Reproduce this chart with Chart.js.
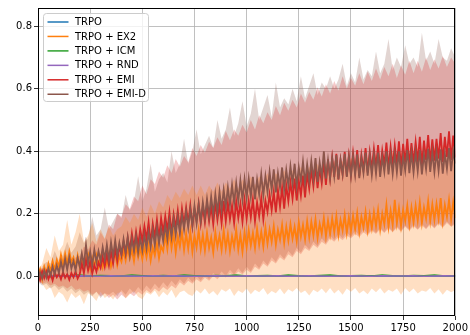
<!DOCTYPE html>
<html><head><meta charset="utf-8">
<script src="https://cdn.jsdelivr.net/npm/chart.js@4.4.1/dist/chart.umd.min.js"></script>
<style>html,body{margin:0;padding:0;background:#fff;overflow:hidden}canvas{display:block}</style>
</head><body>
<canvas id="c" width="470" height="335"></canvas>
<script>
// ---- tick labels ----
const xTicks = [0, 250, 500, 750, 1000, 1250, 1500, 1750, 2000];
const yTicks = [0.0, 0.2, 0.4, 0.6, 0.8];
const seriesNames = ["TRPO", "TRPO + EX2", "TRPO + ICM", "TRPO + RND", "TRPO + EMI", "TRPO + EMI-D"];
const seriesColors = ["#1f77b4", "#ff7f0e", "#2ca02c", "#9467bd", "#d62728", "#8c564b"];

// ---- sampling steps (x values) ----
const stepFine = 10;    // mean curves of EX2 / EMI / EMI-D
const stepBand = 20;    // shaded bands
const stepFlat = 50;    // flat baselines

// ---- mean curves (every 10 steps, 0..2000) ----
const ex2Mean = [
0.000,0.022,-0.010,0.030,0.008,0.040,0.015,0.048,0.020,0.052,
0.030,0.068,0.036,0.072,0.040,0.078,0.045,0.060,0.030,0.066,
0.030,0.062,0.028,0.055,0.070,0.025,0.058,0.032,0.066,0.030,
0.060,0.028,0.064,0.036,0.070,0.030,0.056,0.072,0.034,0.064,
0.046,0.080,0.050,0.090,0.056,0.084,0.048,0.096,0.060,0.088,
0.054,0.094,0.060,0.100,0.050,0.092,0.066,0.104,0.058,0.096,
0.080,0.130,0.086,0.144,0.090,0.136,0.076,0.128,0.094,0.140,
0.084,0.136,0.088,0.142,0.078,0.130,0.092,0.146,0.086,0.132,
0.082,0.138,0.090,0.124,0.076,0.140,0.094,0.130,0.084,0.146,
0.088,0.134,0.080,0.128,0.094,0.148,0.086,0.132,0.078,0.140,
0.092,0.146,0.098,0.138,0.090,0.152,0.100,0.142,0.094,0.156,
0.104,0.150,0.110,0.160,0.100,0.148,0.116,0.164,0.106,0.158,
0.114,0.166,0.120,0.158,0.112,0.172,0.126,0.164,0.118,0.176,
0.124,0.174,0.130,0.182,0.122,0.168,0.136,0.186,0.128,0.178,
0.134,0.186,0.140,0.192,0.132,0.180,0.146,0.196,0.138,0.188,
0.144,0.194,0.150,0.202,0.142,0.190,0.156,0.206,0.148,0.198,
0.154,0.206,0.160,0.212,0.150,0.200,0.166,0.228,0.158,0.210,
0.164,0.244,0.170,0.218,0.160,0.212,0.176,0.226,0.166,0.220,
0.172,0.226,0.178,0.236,0.170,0.220,0.184,0.240,0.176,0.230,
0.180,0.232,0.184,0.250,0.176,0.228,0.190,0.244,0.182,0.236,
0.186];
const emiMean = [
0.010,-0.012,0.016,-0.006,0.014,-0.010,0.008,-0.014,0.012,-0.004,
0.008,-0.010,0.012,-0.006,0.006,-0.012,0.010,-0.004,0.014,-0.008,
0.006,0.040,0.010,0.052,0.018,0.046,0.008,0.036,0.014,0.044,
0.026,0.062,0.030,0.070,0.034,0.078,0.040,0.088,0.048,0.096,
0.066,0.110,0.072,0.124,0.082,0.136,0.090,0.142,0.098,0.150,
0.112,0.160,0.118,0.172,0.106,0.168,0.124,0.180,0.120,0.186,
0.140,0.192,0.146,0.204,0.138,0.198,0.154,0.210,0.150,0.216,
0.164,0.220,0.170,0.226,0.160,0.214,0.176,0.232,0.168,0.222,
0.172,0.230,0.176,0.224,0.166,0.236,0.180,0.228,0.170,0.240,
0.176,0.234,0.182,0.226,0.170,0.240,0.186,0.232,0.174,0.244,
0.184,0.240,0.188,0.246,0.176,0.236,0.192,0.250,0.182,0.242,
0.206,0.262,0.212,0.270,0.204,0.276,0.222,0.284,0.216,0.290,
0.240,0.300,0.248,0.312,0.242,0.306,0.258,0.322,0.252,0.330,
0.280,0.340,0.288,0.352,0.282,0.346,0.298,0.366,0.292,0.374,
0.312,0.380,0.318,0.392,0.310,0.372,0.326,0.398,0.320,0.386,
0.326,0.394,0.334,0.404,0.320,0.388,0.340,0.410,0.332,0.398,
0.342,0.408,0.348,0.420,0.336,0.402,0.356,0.428,0.346,0.414,
0.352,0.418,0.358,0.432,0.348,0.424,0.364,0.440,0.356,0.426,
0.362,0.430,0.366,0.446,0.356,0.434,0.372,0.452,0.364,0.438,
0.370,0.440,0.376,0.458,0.366,0.446,0.382,0.464,0.372,0.450,
0.380];
const emidMean = [
-0.014,0.012,-0.008,0.018,-0.004,0.024,0.002,0.030,0.006,0.034,
0.010,0.046,0.016,0.054,0.020,0.060,0.024,0.048,0.018,0.058,
0.030,0.072,0.036,0.100,0.040,0.078,0.034,0.084,0.044,0.080,
0.048,0.092,0.054,0.100,0.050,0.108,0.062,0.114,0.066,0.106,
0.070,0.118,0.074,0.124,0.068,0.120,0.080,0.128,0.076,0.122,
0.082,0.132,0.088,0.140,0.094,0.148,0.098,0.156,0.104,0.152,
0.112,0.164,0.118,0.176,0.126,0.184,0.132,0.190,0.138,0.196,
0.150,0.206,0.156,0.214,0.162,0.224,0.170,0.230,0.176,0.236,
0.186,0.246,0.192,0.254,0.198,0.262,0.204,0.270,0.212,0.276,
0.222,0.284,0.228,0.292,0.234,0.298,0.240,0.306,0.244,0.310,
0.250,0.312,0.254,0.318,0.246,0.310,0.262,0.326,0.258,0.320,
0.270,0.334,0.276,0.342,0.268,0.330,0.284,0.348,0.278,0.340,
0.290,0.352,0.296,0.360,0.288,0.348,0.304,0.366,0.298,0.358,
0.306,0.368,0.310,0.378,0.302,0.364,0.318,0.400,0.312,0.372,
0.314,0.378,0.320,0.388,0.310,0.372,0.326,0.392,0.318,0.382,
0.320,0.384,0.324,0.390,0.314,0.378,0.330,0.396,0.322,0.386,
0.324,0.388,0.328,0.396,0.318,0.382,0.334,0.400,0.326,0.390,
0.328,0.392,0.332,0.400,0.322,0.386,0.338,0.404,0.330,0.394,
0.332,0.396,0.336,0.404,0.326,0.390,0.342,0.408,0.334,0.398,
0.334,0.398,0.338,0.406,0.328,0.392,0.344,0.410,0.336,0.400,
0.360];

// ---- flat baselines (every 50 steps) ----
const trpoMean = [0.000,0.000,-0.001,0.000,0.001,0.000,0.000,-0.001,0.000,0.000,0.001,0.000,0.000,0.000,-0.001,0.000,0.000,0.001,0.000,0.000,0.000,-0.001,0.000,0.000,0.001,0.000,0.000,0.000,-0.001,0.000,0.000,0.000,0.001,0.000,0.000,-0.001,0.000,0.000,0.000,0.001,0.000];
const icmMean  = [0.000,0.002,0.000,0.001,0.003,0.000,0.002,0.001,0.000,0.003,0.001,0.000,0.002,0.000,0.003,0.001,0.000,0.002,0.001,0.003,0.000,0.001,0.002,0.000,0.003,0.001,0.000,0.002,0.003,0.000,0.001,0.002,0.000,0.003,0.001,0.000,0.002,0.001,0.003,0.000,0.001];
const rndMean  = [0.000,0.001,-0.001,0.000,0.001,0.000,-0.001,0.001,0.000,0.000,-0.001,0.001,0.000,0.001,0.000,-0.001,0.000,0.001,0.000,-0.001,0.001,0.000,0.000,0.001,-0.001,0.000,0.001,0.000,-0.001,0.000,0.001,0.000,-0.001,0.001,0.000,0.000,0.001,-0.001,0.000,0.001,0.000];

// ---- shaded bands (every 20 steps, 0..2000) ----
const ex2Upper = [
0.010,0.040,0.090,0.060,0.130,0.080,0.100,0.180,0.100,0.140,
0.200,0.110,0.130,0.170,0.110,0.150,0.120,0.160,0.130,0.150,
0.160,0.190,0.170,0.200,0.180,0.220,0.190,0.230,0.200,0.240,
0.220,0.260,0.240,0.270,0.250,0.280,0.260,0.290,0.260,0.290,
0.260,0.290,0.270,0.300,0.270,0.300,0.280,0.310,0.280,0.310,
0.290,0.320,0.290,0.320,0.300,0.330,0.300,0.330,0.310,0.340,
0.310,0.340,0.320,0.350,0.320,0.350,0.330,0.360,0.330,0.360,
0.340,0.370,0.340,0.370,0.350,0.380,0.350,0.380,0.360,0.380,
0.360,0.390,0.360,0.390,0.370,0.400,0.370,0.400,0.370,0.400,
0.380,0.410,0.380,0.410,0.380,0.410,0.390,0.420,0.390,0.420,
0.400];
const ex2Lower = [
-0.010,-0.025,-0.045,-0.035,-0.070,-0.050,-0.060,-0.085,-0.055,-0.070,
-0.060,-0.090,-0.055,-0.065,-0.080,-0.050,-0.070,-0.060,-0.075,-0.055,
-0.050,-0.072,-0.058,-0.048,-0.066,-0.074,-0.052,-0.060,-0.046,-0.068,
-0.050,-0.062,-0.044,-0.070,-0.052,-0.046,-0.058,-0.064,-0.045,-0.056,
-0.040,-0.058,-0.048,-0.062,-0.042,-0.050,-0.040,-0.064,-0.046,-0.054,
-0.040,-0.058,-0.044,-0.052,-0.038,-0.060,-0.048,-0.055,-0.040,-0.058,
-0.042,-0.050,-0.038,-0.054,-0.046,-0.062,-0.044,-0.052,-0.040,-0.055,
-0.038,-0.056,-0.044,-0.060,-0.040,-0.050,-0.038,-0.056,-0.046,-0.058,
-0.040,-0.052,-0.038,-0.056,-0.044,-0.050,-0.040,-0.060,-0.038,-0.052,
-0.040,-0.056,-0.046,-0.050,-0.038,-0.056,-0.042,-0.060,-0.044,-0.052,
-0.045];
const emiUpper = [
0.010,0.020,0.012,0.030,0.018,0.036,0.028,0.045,0.035,0.060,
0.065,0.095,0.085,0.115,0.100,0.140,0.118,0.165,0.150,0.200,
0.190,0.230,0.215,0.255,0.240,0.290,0.262,0.310,0.295,0.335,
0.315,0.355,0.330,0.375,0.350,0.385,0.365,0.410,0.385,0.420,
0.395,0.430,0.410,0.445,0.420,0.465,0.435,0.470,0.450,0.485,
0.460,0.500,0.470,0.515,0.490,0.525,0.500,0.545,0.515,0.555,
0.530,0.565,0.540,0.585,0.555,0.590,0.565,0.605,0.575,0.615,
0.585,0.625,0.595,0.640,0.600,0.635,0.610,0.650,0.615,0.655,
0.625,0.665,0.630,0.670,0.640,0.680,0.635,0.675,0.645,0.690,
0.650,0.690,0.655,0.700,0.660,0.695,0.665,0.705,0.670,0.700,
0.680];
const emiLower = [
-0.015,-0.025,-0.020,-0.030,-0.025,-0.035,-0.030,-0.040,-0.030,-0.045,
-0.040,-0.050,-0.045,-0.060,-0.050,-0.065,-0.055,-0.070,-0.060,-0.075,
-0.060,-0.070,-0.055,-0.065,-0.050,-0.060,-0.045,-0.055,-0.040,-0.050,
-0.035,-0.045,-0.030,-0.040,-0.020,-0.030,-0.015,-0.025,-0.010,-0.020,
-0.005,-0.015,0.000,-0.010,0.005,-0.005,0.010,0.000,0.015,0.005,
0.020,0.010,0.030,0.020,0.040,0.030,0.050,0.040,0.060,0.050,
0.070,0.060,0.080,0.070,0.090,0.080,0.100,0.090,0.110,0.100,
0.120,0.110,0.125,0.115,0.130,0.120,0.135,0.125,0.140,0.130,
0.145,0.135,0.150,0.138,0.152,0.140,0.155,0.142,0.158,0.145,
0.160,0.148,0.162,0.150,0.165,0.152,0.168,0.155,0.170,0.158,
0.165];
const emidUpper = [
0.010,0.030,0.045,0.040,0.080,0.050,0.070,0.110,0.075,0.095,
0.140,0.105,0.120,0.190,0.130,0.150,0.220,0.150,0.175,0.200,
0.185,0.260,0.210,0.240,0.320,0.240,0.280,0.360,0.270,0.310,
0.330,0.300,0.400,0.330,0.360,0.440,0.360,0.400,0.470,0.390,
0.420,0.450,0.410,0.500,0.440,0.470,0.540,0.450,0.490,0.560,
0.480,0.520,0.600,0.500,0.540,0.580,0.510,0.620,0.540,0.570,
0.550,0.600,0.560,0.640,0.570,0.610,0.650,0.580,0.620,0.600,
0.640,0.600,0.630,0.680,0.610,0.650,0.620,0.700,0.630,0.660,
0.640,0.720,0.650,0.680,0.760,0.660,0.700,0.670,0.740,0.680,
0.700,0.670,0.780,0.690,0.720,0.680,0.760,0.700,0.690,0.730,
0.700];
const emidLower = [
-0.020,-0.030,-0.025,-0.040,-0.030,-0.045,-0.035,-0.050,-0.040,-0.055,
-0.045,-0.060,-0.050,-0.065,-0.050,-0.070,-0.055,-0.060,-0.050,-0.065,
-0.045,-0.060,-0.040,-0.055,-0.035,-0.050,-0.030,-0.045,-0.025,-0.040,
-0.020,-0.035,-0.015,-0.030,-0.010,-0.025,-0.005,-0.020,0.000,-0.015,
0.005,-0.010,0.010,-0.005,0.015,0.000,0.020,0.005,0.025,0.010,
0.030,0.015,0.040,0.025,0.050,0.035,0.060,0.045,0.070,0.055,
0.080,0.065,0.090,0.075,0.100,0.085,0.110,0.095,0.120,0.105,
0.130,0.115,0.135,0.120,0.140,0.125,0.145,0.130,0.150,0.135,
0.150,0.138,0.155,0.140,0.158,0.142,0.160,0.145,0.162,0.148,
0.165,0.150,0.168,0.152,0.170,0.155,0.172,0.158,0.175,0.160,
0.170];

// ---- build datasets ----
function pts(arr, step) { return arr.map((v, i) => ({ x: i * step, y: v })); }
function bandFill(hex) {
  const r = parseInt(hex.slice(1,3),16), g = parseInt(hex.slice(3,5),16), b = parseInt(hex.slice(5,7),16);
  return `rgba(${r},${g},${b},0.25)`;
}
function band(upper, lower, color) {
  return [
    { data: pts(upper, stepBand), borderWidth: 0, borderColor: 'rgba(0,0,0,0)', backgroundColor: bandFill(color), fill: '+1', order: 100 },
    { data: pts(lower, stepBand), borderWidth: 0, borderColor: 'rgba(0,0,0,0)', backgroundColor: 'rgba(0,0,0,0)', fill: false, order: 100 }
  ];
}
function line(name, arr, step, color, order, w) {
  return { label: name, data: pts(arr, step), borderColor: color, backgroundColor: color, borderWidth: w, fill: false, order: order };
}

const datasets = [
  ...band(ex2Upper, ex2Lower, seriesColors[1]),
  ...band(emiUpper, emiLower, seriesColors[4]),
  ...band(emidUpper, emidLower, seriesColors[5]),
  line(seriesNames[0], trpoMean, stepFlat, seriesColors[0], 10, 1.5),
  line(seriesNames[1], ex2Mean, stepFine, seriesColors[1], 9, 1.8),
  line(seriesNames[2], icmMean, stepFlat, seriesColors[2], 8, 1.5),
  line(seriesNames[3], rndMean, stepFlat, seriesColors[3], 7, 1.5),
  line(seriesNames[4], emiMean, stepFine, seriesColors[4], 6, 1.8),
  line(seriesNames[5], emidMean, stepFine, seriesColors[5], 5, 1.8)
];

const FONT = "'DejaVu Sans', 'Liberation Sans', sans-serif";

const frameAndLegend = {
  id: 'frameAndLegend',
  afterDraw(chart) {
    const ctx = chart.ctx, a = chart.chartArea;
    ctx.save();
    ctx.strokeStyle = '#000';
    ctx.lineWidth = 1;
    ctx.strokeRect(Math.round(a.left) + 0.5, Math.round(a.top) + 0.5, Math.round(a.right - a.left) - 1, Math.round(a.bottom - a.top) - 1);
    const bx = a.left + 5.5, by = a.top + 5.5, bw = 105, bh = 88, r = 3;
    ctx.beginPath();
    ctx.moveTo(bx + r, by);
    ctx.lineTo(bx + bw - r, by); ctx.quadraticCurveTo(bx + bw, by, bx + bw, by + r);
    ctx.lineTo(bx + bw, by + bh - r); ctx.quadraticCurveTo(bx + bw, by + bh, bx + bw - r, by + bh);
    ctx.lineTo(bx + r, by + bh); ctx.quadraticCurveTo(bx, by + bh, bx, by + bh - r);
    ctx.lineTo(bx, by + r); ctx.quadraticCurveTo(bx, by, bx + r, by);
    ctx.closePath();
    ctx.fillStyle = 'rgba(255,255,255,0.8)';
    ctx.fill();
    ctx.strokeStyle = '#cccccc';
    ctx.lineWidth = 1;
    ctx.stroke();
    ctx.font = '10px ' + FONT;
    ctx.textBaseline = 'middle';
    ctx.textAlign = 'left';
    seriesNames.forEach((name, i) => {
      const y = by + 8.5 + i * 14.45;
      ctx.strokeStyle = seriesColors[i];
      ctx.lineWidth = 1.5;
      ctx.beginPath(); ctx.moveTo(bx + 4, y); ctx.lineTo(bx + 25, y); ctx.stroke();
      ctx.fillStyle = '#000';
      ctx.fillText(name, bx + 31.5, y + 0.5);
    });
    ctx.restore();
  }
};

new Chart(document.getElementById('c'), {
  type: 'line',
  data: { datasets },
  options: {
    responsive: false,
    animation: false,
    events: [],
    layout: { padding: { left: 0, right: 13, top: 6, bottom: 0 } },
    elements: { point: { radius: 0 }, line: { tension: 0 } },
    plugins: { legend: { display: false }, tooltip: { enabled: false }, filler: { propagate: false } },
    scales: {
      x: {
        type: 'linear', min: 0, max: 2000,
        afterBuildTicks: s => { s.ticks = xTicks.map(v => ({ value: v })); },
        afterFit: s => { s.height = 19; },
        ticks: { color: '#000', font: { family: FONT, size: 10 }, padding: 2, maxRotation: 0, autoSkip: false, callback: v => String(v) },
        grid: { color: '#b0b0b0', lineWidth: 0.8, tickColor: '#000', tickLength: 4, drawTicks: true },
        border: { display: false }
      },
      y: {
        type: 'linear', min: -0.128, max: 0.859,
        afterBuildTicks: s => { s.ticks = yTicks.map(v => ({ value: v })); },
        afterFit: s => { s.width = 38; },
        ticks: { color: '#000', font: { family: FONT, size: 10 }, padding: 2, autoSkip: false, callback: v => Number(v).toFixed(1) },
        grid: { color: '#b0b0b0', lineWidth: 0.8, tickColor: '#000', tickLength: 4, drawTicks: true },
        border: { display: false }
      }
    }
  },
  plugins: [frameAndLegend]
});
</script>
</body></html>
